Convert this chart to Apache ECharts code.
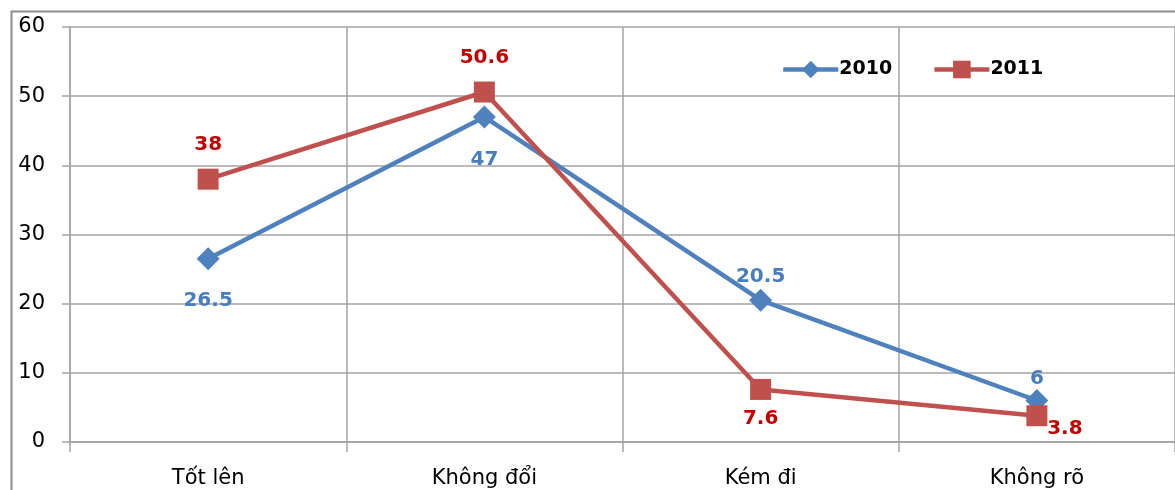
<!DOCTYPE html>
<html>
<head>
<meta charset="utf-8">
<script src="https://cdn.jsdelivr.net/npm/echarts@6/dist/echarts.min.js"></script>
<style>
  html, body { margin: 0; padding: 0; background: #fff; }
  #chart { width: 1175px; height: 490px; }
</style>
</head>
<body>
<div id="chart"></div>
<script>
// Categories and yearly shares (%)
const categories = ['Tốt lên', 'Không đổi', 'Kém đi', 'Không rõ'];
const values2010 = [26.5, 47, 20.5, 6];
const values2011 = [38, 50.6, 7.6, 3.8];
const seriesNames = ['2010', '2011'];

// Where each data label sits relative to its point
const labelPos2010 = [
  { position: 'bottom', distance: 21 },
  { position: 'bottom', distance: 21 },
  { position: 'top', distance: 2 },
  { position: 'top', distance: 0 }
];
const labelPos2011 = [
  { position: 'top', distance: 14 },
  { position: 'top', distance: 14 },
  { position: 'bottom', distance: 9 },
  { position: 'bottom', distance: 0, offset: [28, -7] }
];

const blue = '#4F81BD';
const red = '#C0504D';
const gridColor = '#a3a3a3';
const font = 'DejaVu Sans, Verdana, sans-serif';

function buildData(values, positions, labelColor) {
  return values.map((v, i) => ({
    value: v,
    label: Object.assign({
      show: true,
      color: labelColor,
      fontFamily: font,
      fontSize: 20,
      fontWeight: 'bold'
    }, positions[i])
  }));
}

const chart = echarts.init(document.getElementById('chart'), null, { renderer: 'canvas' });

chart.setOption({
  animation: false,
  backgroundColor: '#fff',
  graphic: [{
    type: 'rect',
    left: 9, top: 9,
    shape: { width: 1200, height: 520 },
    style: { fill: 'none', stroke: '#8c8c8c', lineWidth: 2 },
    silent: true,
    z: -1
  }],
  grid: { left: 70, top: 27, width: 1110, height: 415 },
  legend: {
    left: 776,
    top: 55,
    itemWidth: 55,
    itemHeight: 22,
    itemGap: 40,
    lineStyle: { width: 4.5 },
    textStyle: { fontFamily: font, fontSize: 19, fontWeight: 'bold', color: '#000', padding: [0, 0, 0, -4] },
    data: seriesNames
  },
  xAxis: {
    type: 'category',
    data: categories,
    boundaryGap: true,
    axisLine: { lineStyle: { color: gridColor, width: 1.5 } },
    axisTick: { show: true, length: 10, lineStyle: { color: gridColor, width: 1.5 } },
    splitLine: { show: true, lineStyle: { color: gridColor, width: 1.5 } },
    axisLabel: { color: '#000', fontFamily: font, fontSize: 21, margin: 26 }
  },
  yAxis: {
    type: 'value',
    min: 0,
    max: 60,
    interval: 10,
    axisLine: { show: true, lineStyle: { color: gridColor, width: 1.5 } },
    axisTick: { show: true, length: 8, lineStyle: { color: gridColor, width: 1.5 } },
    splitLine: { show: true, lineStyle: { color: gridColor, width: 1.5 } },
    axisLabel: { color: '#000', fontFamily: font, fontSize: 21, margin: 25 }
  },
  series: [
    {
      name: seriesNames[0],
      type: 'line',
      data: buildData(values2010, labelPos2010, '#4A7EBB'),
      symbol: 'diamond',
      symbolSize: [23, 23],
      lineStyle: { color: blue, width: 4.5 },
      itemStyle: { color: blue },
      z: 3
    },
    {
      name: seriesNames[1],
      type: 'line',
      data: buildData(values2011, labelPos2011, '#C00000'),
      symbol: 'rect',
      symbolSize: [21, 21],
      lineStyle: { color: red, width: 4.5 },
      itemStyle: { color: red },
      z: 4
    }
  ]
});
</script>
</body>
</html>
